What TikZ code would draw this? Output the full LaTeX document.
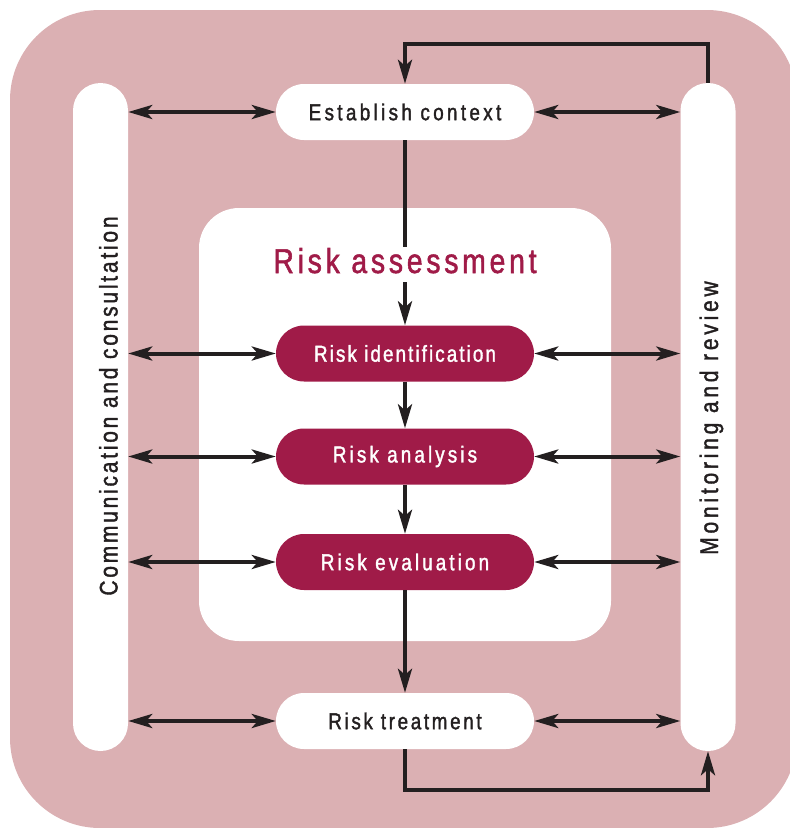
\documentclass[tikz,border=0pt]{standalone}
\usepackage{fontspec}
\newfontfamily\lblfont[FakeStretch=0.82,FakeBold=1.5]{Liberation Sans}
\newcommand{\trk}[1]{\addfontfeature{LetterSpace=#1}}
\usetikzlibrary{arrows.meta}
\definecolor{bgpink}{HTML}{DBB0B3}
\definecolor{crim}{HTML}{A01B48}
\definecolor{ink}{HTML}{231F20}
\tikzset{
  flow/.style={draw=none, minimum width=258pt, minimum height=56pt, rounded corners=28pt, inner sep=0pt,
    font=\lblfont\fontsize{23}{27}\selectfont},
  lightbox/.style={flow, fill=white, text=ink},
  darkbox/.style={flow, fill=crim, text=white},
  pillar/.style={draw=none, fill=white, rotate=90, minimum width=668pt, minimum height=55pt, rounded corners=27.5pt, inner sep=0pt},
  pillartext/.style={rotate=90, anchor=base, inner sep=0pt, text=ink, font=\lblfont\fontsize{25.5}{30}\selectfont},
  tipshape/.tip={Stealth[length=24pt,width=14pt,inset=6pt]},
  conn/.style={draw=ink, line width=4pt, line join=miter},
  biarrow/.style={conn, tipshape-tipshape},
  onearrow/.style={conn, -tipshape},
}
\begin{document}
\begin{tikzpicture}[x=1pt,y=-1pt]
\useasboundingbox (0,0) rectangle (790,828);
% outer background
\fill[bgpink, rounded corners=90pt] (10,10) rectangle (797,828);
% inner panel
\fill[white, rounded corners=40pt] (199,208) rectangle (611,641);
% pillars
\node[pillar] (comm) at (100.5,417) {};
\node[pillar] (mon) at (708,417) {};
\node[pillartext] (commtext) at (117.5,406) {\trk{11}Communication and consultation};
\node[pillartext] (montext) at (718,418) {\trk{15}Monitoring and review};
% process boxes
\node[lightbox] (ctx) at (405,112) {\trk{14.5}Establish context};
\node[darkbox] (rid) at (405,353.5) {\trk{9}Risk identification};
\node[darkbox] (ran) at (405,456.5) {\trk{13.5}Risk analysis};
\node[darkbox] (rev) at (405,562) {\trk{13.5}Risk evaluation};
\node[lightbox] (rtr) at (405,721) {\trk{11.5}Risk treatment};
% vertical flow
\draw[onearrow] (ctx.south) -- (rid.north);
\node[anchor=base, fill=white, inner sep=0pt, text height=26pt, text depth=9pt, text=crim,
  font=\lblfont\fontsize{34.5}{40}\selectfont] (ra) at (405,273) {\trk{11}Risk assessment};
\draw[onearrow] (rid.south) -- (ran.north);
\draw[onearrow] (ran.south) -- (rev.north);
\draw[onearrow] (rev.south) -- (rtr.north);
% side links
\foreach \n in {ctx,rid,ran,rev,rtr}{
  \draw[biarrow] (comm.south |- \n.west) -- (\n.west);
  \draw[biarrow] (\n.east) -- (mon.north |- \n.east);
}
% feedback loops
\draw[onearrow] (mon.east) -- ++(0,-39) -| (ctx.north);
\draw[onearrow] (rtr.south) -- ++(0,41) -| (mon.west);
\end{tikzpicture}
\end{document}
